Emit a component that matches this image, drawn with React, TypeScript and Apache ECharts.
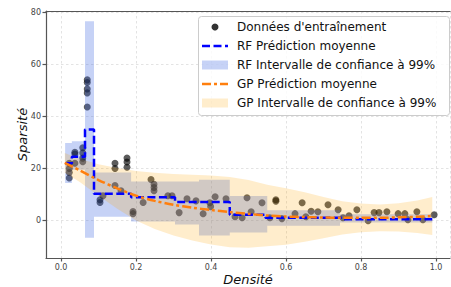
import React, { useEffect, useRef } from "react";
import * as echarts from "echarts";

// Training data (density, sparsity)
const trainX = [
  0.022, 0.022, 0.022, 0.022, 0.037, 0.037, 0.037, 0.058, 0.058, 0.058, 0.058,
  0.07, 0.07, 0.07, 0.07, 0.07,
  0.104, 0.104, 0.112, 0.144, 0.144, 0.144, 0.16, 0.176, 0.176, 0.176, 0.192, 0.192, 0.219,
  0.24, 0.248, 0.248, 0.248, 0.285, 0.296, 0.315, 0.336, 0.36, 0.379, 0.397, 0.399, 0.411,
  0.44, 0.464, 0.483, 0.496, 0.507, 0.536, 0.557, 0.573, 0.573, 0.589, 0.624, 0.643, 0.653,
  0.667, 0.685, 0.712, 0.739, 0.752, 0.768, 0.789, 0.819, 0.835, 0.848, 0.869, 0.899, 0.917,
  0.925, 0.949, 0.965, 0.995,
];
const trainY = [
  22, 20, 18.5, 16.4, 22, 25.6, 26.2, 28, 26, 24, 22.6,
  54, 53, 50.5, 49, 43.6,
  8, 7, 9.6, 22, 20, 13.5, 11.5, 24, 22.5, 20.5, 3.5, 2.7, 7,
  15.8, 14, 12.7, 11.5, 9.6, 9.6, 3.1, 8.4, 7.6, 2.7, 6.9, 5.4, 9.2,
  8.4, 1.5, 1.1, 8.8, 3.4, 6.9, 1.1, 8, 7.5, 0.8, 2.7, 6.9, 1.5,
  3.6, 3.4, 6.1, 4.2, 1.1, 1.9, 4.2, 0, 3.1, 3.1, 3.4, 2.7, 2.7,
  0.4, 3.4, 0.4, 2.3,
];

// Random forest mean prediction (step edges)
const rfStepX = [0.011, 0.029, 0.064, 0.088, 0.187, 0.304, 0.45, 0.545, 0.75, 0.99];
const rfMean = [22, 24.5, 35, 10.3, 9.0, 7.2, 2.3, 1.1, 0.6, 0.6];

// Random forest 99% interval (step edges)
const rfBandX = [0.011, 0.029, 0.064, 0.088, 0.187, 0.304, 0.368, 0.45, 0.55, 0.744, 0.99];
const rfLower = [14.5, 19.5, -6.5, 1.5, -0.3, -1.5, -5.7, -4.5, -1.9, -0.7];
const rfUpper = [29.8, 30.5, 76.5, 18.5, 15, 15, 15.7, 9.5, 4.0, 2.5];

// Gaussian process mean and 99% interval
const gpX = [0.01, 0.05, 0.1, 0.15, 0.2, 0.25, 0.3, 0.35, 0.4, 0.45, 0.5, 0.55, 0.6, 0.65, 0.7, 0.75, 0.8, 0.85, 0.9, 0.95, 0.99];
const gpMean = [22.2, 19.3, 15.6, 12.4, 9.6, 7.6, 6.1, 5.0, 4.1, 3.3, 2.6, 2.0, 1.6, 1.4, 1.2, 1.1, 1.1, 1.1, 1.3, 1.5, 1.8];
const gpUpper = [26.0, 23.8, 21.6, 20.2, 19.1, 18.4, 17.9, 17.6, 17.3, 16.8, 15.6, 13.8, 12.4, 10.9, 9.1, 7.5, 6.6, 6.2, 6.7, 7.7, 9.1];
const gpLower = [18.4, 14.8, 9.6, 4.6, 0.1, -3.2, -5.7, -7.6, -9.1, -10.2, -10.4, -9.8, -9.2, -8.1, -6.7, -5.3, -4.4, -4.0, -4.1, -4.7, -5.5];

const NAMES = [
  "Données d'entraînement",
  "RF Prédiction moyenne",
  "RF Intervalle de confiance à 99%",
  "GP Prédiction moyenne",
  "GP Intervalle de confiance à 99%",
];

const RF_FILL = "rgba(65,105,225,0.3)";
const GP_FILL = "rgba(255,165,0,0.2)";
const POINT = "rgba(0,0,0,0.8)";
const RF_LINE = "#0000ff";
const GP_LINE = "#ff7f0e";
const RF_DASH = [8, 3.5];
const GP_DASH = [9, 3, 3, 3];
const FONT = "DejaVu Sans";

function buildLegend() {
  const left = 198;
  const top = 16;
  const w = 251;
  const h = 99;
  const rowY = [27, 46, 65, 84, 103];
  const hx0 = 202;
  const hx1 = 228;
  const tx = 237;
  const els: any[] = [
    {
      type: "rect",
      shape: { x: left + 0.5, y: top + 0.5, width: w, height: h, r: 3 },
      style: { fill: "rgba(255,255,255,0.8)", stroke: "#cccccc", lineWidth: 1 },
      z: 100,
    },
  ];
  const handles = [
    { type: "circle", shape: { cx: (hx0 + hx1) / 2, cy: rowY[0], r: 3.5 }, style: { fill: POINT } },
    { type: "line", shape: { x1: hx0, y1: rowY[1], x2: hx1, y2: rowY[1] }, style: { stroke: RF_LINE, lineWidth: 2.5, lineDash: RF_DASH } },
    { type: "rect", shape: { x: hx0, y: rowY[2] - 4.5, width: hx1 - hx0, height: 9 }, style: { fill: RF_FILL } },
    { type: "line", shape: { x1: hx0, y1: rowY[3], x2: hx1, y2: rowY[3] }, style: { stroke: GP_LINE, lineWidth: 2.5, lineDash: GP_DASH } },
    { type: "rect", shape: { x: hx0, y: rowY[4] - 4.5, width: hx1 - hx0, height: 9 }, style: { fill: GP_FILL } },
  ];
  handles.forEach((hd) => els.push({ ...hd, z: 101 }));
  NAMES.forEach((n, i) =>
    els.push({
      type: "text",
      x: tx,
      y: rowY[i],
      z: 101,
      style: { text: n, fontFamily: FONT, fontSize: 12, fill: "#111", verticalAlign: "middle", align: "left" },
    })
  );
  return els;
}

export default function App() {
  const ref = useRef<HTMLDivElement>(null);

  useEffect(() => {
    if (!ref.current) return;
    const chart = echarts.init(ref.current, undefined, { renderer: "svg" });

    const rfPoly = (api: any) => {
      const pts: number[][] = [];
      for (let i = 0; i < rfUpper.length; i++) {
        pts.push(api.coord([rfBandX[i], rfUpper[i]]));
        pts.push(api.coord([rfBandX[i + 1], rfUpper[i]]));
      }
      for (let i = rfLower.length - 1; i >= 0; i--) {
        pts.push(api.coord([rfBandX[i + 1], rfLower[i]]));
        pts.push(api.coord([rfBandX[i], rfLower[i]]));
      }
      return pts;
    };
    const gpPoly = (api: any) => {
      const pts: number[][] = [];
      for (let i = 0; i < gpX.length; i++) pts.push(api.coord([gpX[i], gpUpper[i]]));
      for (let i = gpX.length - 1; i >= 0; i--) pts.push(api.coord([gpX[i], gpLower[i]]));
      return pts;
    };

    const axisLineStyle = { color: "#555", width: 1.2 };
    const gridLine = { show: true, lineStyle: { color: "#dcdcdc", width: 0.8, type: [2.5, 2.5] as any } };

    chart.setOption({
      animation: false,
      textStyle: { fontFamily: FONT },
      grid: { left: 46, right: 1, top: 11, bottom: 29, containLabel: false, outerBoundsMode: "none" },
      xAxis: [
        {
          type: "value",
          min: -0.04,
          max: 1.0373,
          splitNumber: 5,
          position: "bottom",
          axisLine: { show: true, onZero: false, lineStyle: axisLineStyle },
          axisTick: { show: true, length: 3.5, lineStyle: axisLineStyle },
          axisLabel: {
            color: "#444",
            fontSize: 8,
            margin: 5,
            showMinLabel: false,
            showMaxLabel: false,
            formatter: (v: number) => v.toFixed(1),
          },
          splitLine: gridLine,
          name: "Densité",
          nameLocation: "middle",
          nameGap: 14,
          nameMoveOverlap: false,
          nameTextStyle: { fontStyle: "italic", fontSize: 13, color: "#111", lineHeight: 14 },
        },
        {
          type: "value",
          min: -0.04,
          max: 1.0373,
          position: "top",
          axisLine: { show: true, onZero: false, lineStyle: axisLineStyle },
          axisTick: { show: false },
          axisLabel: { show: false },
          splitLine: { show: false },
        },
      ],
      yAxis: {
        type: "value",
        min: -14.3,
        max: 80.4,
        splitNumber: 5,
        axisLine: { show: true, onZero: false, lineStyle: axisLineStyle },
        axisTick: { show: true, length: 3.5, lineStyle: axisLineStyle },
        axisLabel: {
          color: "#444",
          fontSize: 8,
          margin: 5,
          showMinLabel: false,
          showMaxLabel: false,
        },
        splitLine: gridLine,
        name: "Sparsité",
        nameLocation: "middle",
        nameGap: 17,
        nameMoveOverlap: false,
        nameTextStyle: { fontStyle: "italic", fontSize: 13, color: "#111" },
      },
      graphic: buildLegend(),
      series: [
        {
          name: NAMES[0],
          type: "scatter",
          z: 1,
          symbol: "circle",
          symbolSize: 7,
          itemStyle: { color: POINT },
          data: trainX.map((x, i) => [x, trainY[i]]),
        },
        {
          name: NAMES[2],
          type: "custom",
          z: 2,
          silent: true,
          data: [[rfBandX[0], rfLower[0]]],
          renderItem: (_p: any, api: any) => ({
            type: "polygon",
            shape: { points: rfPoly(api) },
            style: { fill: RF_FILL },
          }),
        },
        {
          name: NAMES[4],
          type: "custom",
          z: 2,
          silent: true,
          data: [[gpX[0], gpLower[0]]],
          renderItem: (_p: any, api: any) => ({
            type: "polygon",
            shape: { points: gpPoly(api) },
            style: { fill: GP_FILL },
          }),
        },
        {
          name: NAMES[1],
          type: "line",
          z: 3,
          step: "end",
          symbol: "none",
          showSymbol: false,
          lineStyle: { color: RF_LINE, width: 2.5, type: RF_DASH as any },
          data: rfStepX.map((x, i) => [x, rfMean[i]]),
        },
        {
          name: NAMES[3],
          type: "line",
          z: 4,
          symbol: "none",
          showSymbol: false,
          smooth: 0.3,
          lineStyle: { color: GP_LINE, width: 2.5, type: GP_DASH as any },
          data: gpX.map((x, i) => [x, gpMean[i]]),
        },
      ],
    });

    return () => chart.dispose();
  }, []);

  return (
    <div
      ref={ref}
      style={{ position: "fixed", left: 0, top: 0, width: 451, height: 287, background: "#fff" }}
    />
  );
}
